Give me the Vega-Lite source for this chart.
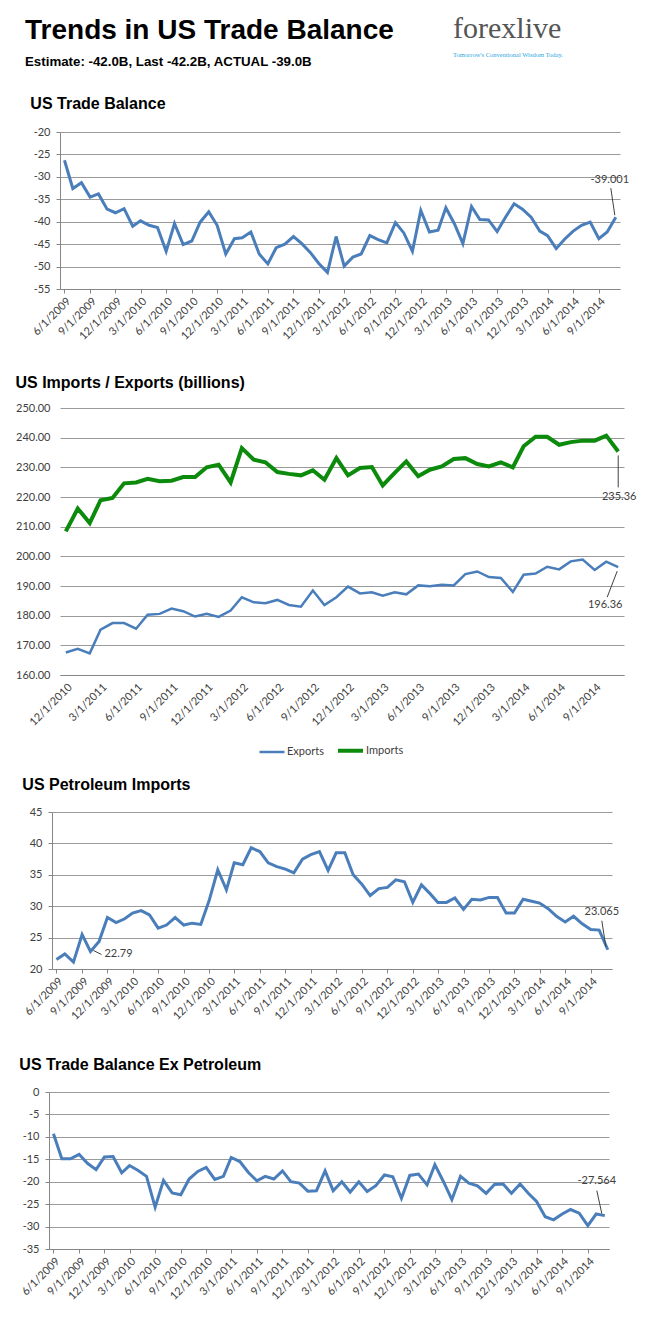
{
  "$schema": "https://vega.github.io/schema/vega-lite/v6.json",
  "background": "white",
  "padding": {"left": 15, "top": 13, "right": 0, "bottom": 0},
  "config": {"view": {"stroke": null}},
  "datasets": {
    "tb": [
      {"date":"2009-06-01","value":-26.3},{"date":"2009-07-01","value":-32.6},{"date":"2009-08-01","value":-31.3},{"date":"2009-09-01","value":-34.5},{"date":"2009-10-01","value":-33.8},{"date":"2009-11-01","value":-37.2},{"date":"2009-12-01","value":-38.0},
      {"date":"2010-01-01","value":-37.1},{"date":"2010-02-01","value":-41.0},{"date":"2010-03-01","value":-39.8},{"date":"2010-04-01","value":-40.8},{"date":"2010-05-01","value":-41.3},{"date":"2010-06-01","value":-46.6},{"date":"2010-07-01","value":-40.4},{"date":"2010-08-01","value":-45.1},{"date":"2010-09-01","value":-44.3},{"date":"2010-10-01","value":-40.1},{"date":"2010-11-01","value":-37.8},{"date":"2010-12-01","value":-40.8},
      {"date":"2011-01-01","value":-47.2},{"date":"2011-02-01","value":-43.8},{"date":"2011-03-01","value":-43.6},{"date":"2011-04-01","value":-42.3},{"date":"2011-05-01","value":-47.2},{"date":"2011-06-01","value":-49.4},{"date":"2011-07-01","value":-45.8},{"date":"2011-08-01","value":-45.0},{"date":"2011-09-01","value":-43.3},{"date":"2011-10-01","value":-44.9},{"date":"2011-11-01","value":-46.9},{"date":"2011-12-01","value":-49.3},
      {"date":"2012-01-01","value":-51.3},{"date":"2012-02-01","value":-43.3},{"date":"2012-03-01","value":-49.9},{"date":"2012-04-01","value":-47.9},{"date":"2012-05-01","value":-47.2},{"date":"2012-06-01","value":-43.1},{"date":"2012-07-01","value":-44.0},{"date":"2012-08-01","value":-44.7},{"date":"2012-09-01","value":-40.2},{"date":"2012-10-01","value":-42.5},{"date":"2012-11-01","value":-46.6},{"date":"2012-12-01","value":-37.5},
      {"date":"2013-01-01","value":-42.3},{"date":"2013-02-01","value":-41.9},{"date":"2013-03-01","value":-36.9},{"date":"2013-04-01","value":-40.5},{"date":"2013-05-01","value":-44.9},{"date":"2013-06-01","value":-36.6},{"date":"2013-07-01","value":-39.5},{"date":"2013-08-01","value":-39.6},{"date":"2013-09-01","value":-42.2},{"date":"2013-10-01","value":-39.0},{"date":"2013-11-01","value":-36.0},{"date":"2013-12-01","value":-37.2},
      {"date":"2014-01-01","value":-39.0},{"date":"2014-02-01","value":-42.1},{"date":"2014-03-01","value":-43.1},{"date":"2014-04-01","value":-46.0},{"date":"2014-05-01","value":-43.9},{"date":"2014-06-01","value":-42.1},{"date":"2014-07-01","value":-40.8},{"date":"2014-08-01","value":-40.1},{"date":"2014-09-01","value":-43.8},{"date":"2014-10-01","value":-42.3},{"date":"2014-11-01","value":-39.001,"label":"-39.001"}
    ],
    "pet": [
      {"date":"2009-06-01","value":21.5},{"date":"2009-07-01","value":22.4},{"date":"2009-08-01","value":21.1},{"date":"2009-09-01","value":25.5},{"date":"2009-10-01","value":22.79,"label":"22.79"},{"date":"2009-11-01","value":24.4},{"date":"2009-12-01","value":28.2},
      {"date":"2010-01-01","value":27.4},{"date":"2010-02-01","value":28.0},{"date":"2010-03-01","value":28.9},{"date":"2010-04-01","value":29.3},{"date":"2010-05-01","value":28.6},{"date":"2010-06-01","value":26.5},{"date":"2010-07-01","value":27.0},{"date":"2010-08-01","value":28.2},{"date":"2010-09-01","value":27.0},{"date":"2010-10-01","value":27.3},{"date":"2010-11-01","value":27.1},{"date":"2010-12-01","value":30.9},
      {"date":"2011-01-01","value":35.8},{"date":"2011-02-01","value":32.6},{"date":"2011-03-01","value":36.9},{"date":"2011-04-01","value":36.6},{"date":"2011-05-01","value":39.3},{"date":"2011-06-01","value":38.7},{"date":"2011-07-01","value":36.9},{"date":"2011-08-01","value":36.3},{"date":"2011-09-01","value":35.9},{"date":"2011-10-01","value":35.3},{"date":"2011-11-01","value":37.5},{"date":"2011-12-01","value":38.2},
      {"date":"2012-01-01","value":38.7},{"date":"2012-02-01","value":35.7},{"date":"2012-03-01","value":38.5},{"date":"2012-04-01","value":38.5},{"date":"2012-05-01","value":35.0},{"date":"2012-06-01","value":33.5},{"date":"2012-07-01","value":31.7},{"date":"2012-08-01","value":32.8},{"date":"2012-09-01","value":33.0},{"date":"2012-10-01","value":34.2},{"date":"2012-11-01","value":33.9},{"date":"2012-12-01","value":30.6},
      {"date":"2013-01-01","value":33.4},{"date":"2013-02-01","value":32.0},{"date":"2013-03-01","value":30.6},{"date":"2013-04-01","value":30.6},{"date":"2013-05-01","value":31.3},{"date":"2013-06-01","value":29.5},{"date":"2013-07-01","value":31.1},{"date":"2013-08-01","value":31.0},{"date":"2013-09-01","value":31.4},{"date":"2013-10-01","value":31.4},{"date":"2013-11-01","value":28.9},{"date":"2013-12-01","value":28.9},
      {"date":"2014-01-01","value":31.1},{"date":"2014-02-01","value":30.8},{"date":"2014-03-01","value":30.5},{"date":"2014-04-01","value":29.6},{"date":"2014-05-01","value":28.4},{"date":"2014-06-01","value":27.5},{"date":"2014-07-01","value":28.4},{"date":"2014-08-01","value":27.2},{"date":"2014-09-01","value":26.3},{"date":"2014-10-01","value":26.2},{"date":"2014-11-01","value":23.065,"label":"23.065"}
    ],
    "expet": [
      {"date":"2009-06-01","value":-9.3},{"date":"2009-07-01","value":-14.9},{"date":"2009-08-01","value":-14.9},{"date":"2009-09-01","value":-13.9},{"date":"2009-10-01","value":-15.9},{"date":"2009-11-01","value":-17.3},{"date":"2009-12-01","value":-14.5},
      {"date":"2010-01-01","value":-14.4},{"date":"2010-02-01","value":-18.0},{"date":"2010-03-01","value":-16.4},{"date":"2010-04-01","value":-17.5},{"date":"2010-05-01","value":-18.8},{"date":"2010-06-01","value":-25.7},{"date":"2010-07-01","value":-19.7},{"date":"2010-08-01","value":-22.5},{"date":"2010-09-01","value":-22.9},{"date":"2010-10-01","value":-19.4},{"date":"2010-11-01","value":-17.7},{"date":"2010-12-01","value":-16.8},
      {"date":"2011-01-01","value":-19.5},{"date":"2011-02-01","value":-18.8},{"date":"2011-03-01","value":-14.6},{"date":"2011-04-01","value":-15.5},{"date":"2011-05-01","value":-17.9},{"date":"2011-06-01","value":-19.8},{"date":"2011-07-01","value":-18.8},{"date":"2011-08-01","value":-19.4},{"date":"2011-09-01","value":-17.6},{"date":"2011-10-01","value":-20.0},{"date":"2011-11-01","value":-20.3},{"date":"2011-12-01","value":-22.1},
      {"date":"2012-01-01","value":-22.0},{"date":"2012-02-01","value":-17.6},{"date":"2012-03-01","value":-22.0},{"date":"2012-04-01","value":-20.0},{"date":"2012-05-01","value":-22.3},{"date":"2012-06-01","value":-20.0},{"date":"2012-07-01","value":-22.2},{"date":"2012-08-01","value":-20.9},{"date":"2012-09-01","value":-18.5},{"date":"2012-10-01","value":-18.9},{"date":"2012-11-01","value":-23.7},{"date":"2012-12-01","value":-18.6},
      {"date":"2013-01-01","value":-18.3},{"date":"2013-02-01","value":-20.7},{"date":"2013-03-01","value":-16.2},{"date":"2013-04-01","value":-20.0},{"date":"2013-05-01","value":-24.0},{"date":"2013-06-01","value":-18.8},{"date":"2013-07-01","value":-20.3},{"date":"2013-08-01","value":-20.9},{"date":"2013-09-01","value":-22.6},{"date":"2013-10-01","value":-20.6},{"date":"2013-11-01","value":-20.5},{"date":"2013-12-01","value":-22.6},
      {"date":"2014-01-01","value":-20.5},{"date":"2014-02-01","value":-22.7},{"date":"2014-03-01","value":-24.4},{"date":"2014-04-01","value":-27.8},{"date":"2014-05-01","value":-28.5},{"date":"2014-06-01","value":-27.2},{"date":"2014-07-01","value":-26.2},{"date":"2014-08-01","value":-27.0},{"date":"2014-09-01","value":-29.8},{"date":"2014-10-01","value":-27.2},{"date":"2014-11-01","value":-27.564,"label":"-27.564"}
    ],
    "impexp": [
      {"date":"2010-12-01","series":"Exports","value":167.6},{"date":"2011-01-01","series":"Exports","value":168.8},{"date":"2011-02-01","series":"Exports","value":167.3},{"date":"2011-03-01","series":"Exports","value":175.3},{"date":"2011-04-01","series":"Exports","value":177.5},{"date":"2011-05-01","series":"Exports","value":177.5},{"date":"2011-06-01","series":"Exports","value":175.6},{"date":"2011-07-01","series":"Exports","value":180.3},{"date":"2011-08-01","series":"Exports","value":180.6},{"date":"2011-09-01","series":"Exports","value":182.4},{"date":"2011-10-01","series":"Exports","value":181.5},{"date":"2011-11-01","series":"Exports","value":179.7},{"date":"2011-12-01","series":"Exports","value":180.6},
      {"date":"2012-01-01","series":"Exports","value":179.6},{"date":"2012-02-01","series":"Exports","value":181.7},{"date":"2012-03-01","series":"Exports","value":186.2},{"date":"2012-04-01","series":"Exports","value":184.5},{"date":"2012-05-01","series":"Exports","value":184.2},{"date":"2012-06-01","series":"Exports","value":185.3},{"date":"2012-07-01","series":"Exports","value":183.6},{"date":"2012-08-01","series":"Exports","value":183.0},{"date":"2012-09-01","series":"Exports","value":188.5},{"date":"2012-10-01","series":"Exports","value":183.6},{"date":"2012-11-01","series":"Exports","value":186.2},{"date":"2012-12-01","series":"Exports","value":189.8},
      {"date":"2013-01-01","series":"Exports","value":187.5},{"date":"2013-02-01","series":"Exports","value":187.9},{"date":"2013-03-01","series":"Exports","value":186.7},{"date":"2013-04-01","series":"Exports","value":187.9},{"date":"2013-05-01","series":"Exports","value":187.2},{"date":"2013-06-01","series":"Exports","value":190.2},{"date":"2013-07-01","series":"Exports","value":189.9},{"date":"2013-08-01","series":"Exports","value":190.4},{"date":"2013-09-01","series":"Exports","value":190.2},{"date":"2013-10-01","series":"Exports","value":194.0},{"date":"2013-11-01","series":"Exports","value":194.9},{"date":"2013-12-01","series":"Exports","value":193.0},
      {"date":"2014-01-01","series":"Exports","value":192.7},{"date":"2014-02-01","series":"Exports","value":188.0},{"date":"2014-03-01","series":"Exports","value":193.8},{"date":"2014-04-01","series":"Exports","value":194.2},{"date":"2014-05-01","series":"Exports","value":196.5},{"date":"2014-06-01","series":"Exports","value":195.6},{"date":"2014-07-01","series":"Exports","value":198.3},{"date":"2014-08-01","series":"Exports","value":198.9},{"date":"2014-09-01","series":"Exports","value":195.4},{"date":"2014-10-01","series":"Exports","value":198.2},{"date":"2014-11-01","series":"Exports","value":196.36,"label":"196.36"},
      {"date":"2010-12-01","series":"Imports","value":208.4},{"date":"2011-01-01","series":"Imports","value":216.1},{"date":"2011-02-01","series":"Imports","value":211.2},{"date":"2011-03-01","series":"Imports","value":218.9},{"date":"2011-04-01","series":"Imports","value":219.7},{"date":"2011-05-01","series":"Imports","value":224.6},{"date":"2011-06-01","series":"Imports","value":224.9},{"date":"2011-07-01","series":"Imports","value":226.1},{"date":"2011-08-01","series":"Imports","value":225.3},{"date":"2011-09-01","series":"Imports","value":225.5},{"date":"2011-10-01","series":"Imports","value":226.7},{"date":"2011-11-01","series":"Imports","value":226.7},{"date":"2011-12-01","series":"Imports","value":230.0},
      {"date":"2012-01-01","series":"Imports","value":230.9},{"date":"2012-02-01","series":"Imports","value":224.9},{"date":"2012-03-01","series":"Imports","value":236.5},{"date":"2012-04-01","series":"Imports","value":232.6},{"date":"2012-05-01","series":"Imports","value":231.7},{"date":"2012-06-01","series":"Imports","value":228.4},{"date":"2012-07-01","series":"Imports","value":227.8},{"date":"2012-08-01","series":"Imports","value":227.3},{"date":"2012-09-01","series":"Imports","value":229.0},{"date":"2012-10-01","series":"Imports","value":225.8},{"date":"2012-11-01","series":"Imports","value":233.1},{"date":"2012-12-01","series":"Imports","value":227.3},
      {"date":"2013-01-01","series":"Imports","value":229.8},{"date":"2013-02-01","series":"Imports","value":230.1},{"date":"2013-03-01","series":"Imports","value":223.9},{"date":"2013-04-01","series":"Imports","value":228.1},{"date":"2013-05-01","series":"Imports","value":232.0},{"date":"2013-06-01","series":"Imports","value":227.0},{"date":"2013-07-01","series":"Imports","value":229.2},{"date":"2013-08-01","series":"Imports","value":230.3},{"date":"2013-09-01","series":"Imports","value":232.8},{"date":"2013-10-01","series":"Imports","value":233.1},{"date":"2013-11-01","series":"Imports","value":231.1},{"date":"2013-12-01","series":"Imports","value":230.3},
      {"date":"2014-01-01","series":"Imports","value":231.7},{"date":"2014-02-01","series":"Imports","value":230.0},{"date":"2014-03-01","series":"Imports","value":237.1},{"date":"2014-04-01","series":"Imports","value":240.3},{"date":"2014-05-01","series":"Imports","value":240.3},{"date":"2014-06-01","series":"Imports","value":237.6},{"date":"2014-07-01","series":"Imports","value":238.5},{"date":"2014-08-01","series":"Imports","value":239.0},{"date":"2014-09-01","series":"Imports","value":239.0},{"date":"2014-10-01","series":"Imports","value":240.7},{"date":"2014-11-01","series":"Imports","value":235.36,"label":"235.36"}
    ]
  },
  "concat": [
    {
      "hconcat": [
        {
          "width": 360, "height": 10,
          "data": {"values": []},
          "mark": "point",
          "title": {"text": "Trends in US Trade Balance", "subtitle": "Estimate: -42.0B, Last -42.2B, ACTUAL -39.0B", "anchor": "start", "dx": -24, "font": "Liberation Sans", "fontSize": 28, "fontWeight": "bold", "color": "black", "subtitleFont": "Liberation Sans", "subtitleFontSize": 13.3, "subtitleFontWeight": "bold", "subtitleColor": "black", "subtitlePadding": 10, "offset": 4}
        },
        {
          "width": 112, "height": 10,
          "data": {"values": []},
          "mark": "point",
          "title": {"text": "forexlive", "subtitle": "Tomorrow's Conventional Wisdom Today.", "anchor": "start", "font": "Liberation Serif", "fontSize": 30, "fontWeight": "normal", "color": "#555555", "subtitleFont": "Liberation Serif", "subtitleFontSize": 6.5, "subtitleColor": "#2aa6df", "subtitlePadding": 8, "offset": 14}
        }
      ],
      "spacing": 44
    },
    {
      "hconcat": [
        {"width": 1, "height": 1, "data": {"values": []}, "mark": "point"},
        {
          "width": 560, "height": 157,
          "data": {"name": "tb"},
          "title": {"text": "US Trade Balance", "anchor": "start", "font": "Liberation Sans", "fontSize": 16, "fontWeight": "bold", "color": "black", "offset": 14},
          "encoding": {
            "x": {"field": "date", "type": "temporal", "scale": {"type": "utc", "domain": [{"year":2009,"month":5,"date":16,"utc":true},{"year":2014,"month":11,"date":16,"utc":true}]},
              "axis": {"title": null, "format": "%-m/%-d/%Y", "labelAngle": -45, "labelFont": "Lato", "labelFontSize": 11, "labelColor": "#404040", "labelOverlap": false, "labelFlush": false, "labelBound": false, "grid": false, "domainColor": "#868686", "tickColor": "#868686", "tickSize": 4, "labelPadding": 2, "minExtent": 72,
                "values": [{"year":2009,"month":6,"date":1,"utc":true},{"year":2009,"month":9,"date":1,"utc":true},{"year":2009,"month":12,"date":1,"utc":true},{"year":2010,"month":3,"date":1,"utc":true},{"year":2010,"month":6,"date":1,"utc":true},{"year":2010,"month":9,"date":1,"utc":true},{"year":2010,"month":12,"date":1,"utc":true},{"year":2011,"month":3,"date":1,"utc":true},{"year":2011,"month":6,"date":1,"utc":true},{"year":2011,"month":9,"date":1,"utc":true},{"year":2011,"month":12,"date":1,"utc":true},{"year":2012,"month":3,"date":1,"utc":true},{"year":2012,"month":6,"date":1,"utc":true},{"year":2012,"month":9,"date":1,"utc":true},{"year":2012,"month":12,"date":1,"utc":true},{"year":2013,"month":3,"date":1,"utc":true},{"year":2013,"month":6,"date":1,"utc":true},{"year":2013,"month":9,"date":1,"utc":true},{"year":2013,"month":12,"date":1,"utc":true},{"year":2014,"month":3,"date":1,"utc":true},{"year":2014,"month":6,"date":1,"utc":true},{"year":2014,"month":9,"date":1,"utc":true}]}},
            "y": {"field": "value", "type": "quantitative", "scale": {"domain": [-55, -20], "nice": false, "zero": false},
              "axis": {"title": null, "values": [-55,-50,-45,-40,-35,-30,-25,-20], "labelExpr": "toString(datum.value)", "labelFont": "Lato", "labelFontSize": 11, "labelColor": "#404040", "grid": true, "gridColor": "#9a9a9a", "domainColor": "#868686", "tickColor": "#868686", "tickSize": 4, "labelPadding": 6}}
          },
          "layer": [
            {"mark": {"type": "line", "color": "#4a7ebb", "strokeWidth": 3}},
            {"transform": [{"filter": "datum.label"}], "mark": {"type": "rule", "color": "#404040", "strokeWidth": 1, "xOffset": -1, "yOffset": -2, "x2Offset": -5, "y2Offset": -29}, "encoding": {"x2": {"field": "date"}, "y2": {"field": "value"}}},
            {"transform": [{"filter": "datum.label"}], "mark": {"type": "text", "font": "Lato", "fontSize": 11, "color": "#404040", "dx": -6, "dy": -37}, "encoding": {"text": {"field": "label"}}}
          ]
        }
      ],
      "spacing": 10,
      "bounds": "flush"
    },
    {
      "hconcat": [
        {"width": 1, "height": 1, "data": {"values": []}, "mark": "point"},
        {
          "width": 564, "height": 267,
          "data": {"name": "impexp"},
          "title": {"text": "US Imports / Exports (billions)", "anchor": "start", "font": "Liberation Sans", "fontSize": 16, "fontWeight": "bold", "color": "black", "offset": 11},
          "encoding": {
            "x": {"field": "date", "type": "temporal", "scale": {"type": "utc", "domain": [{"year":2010,"month":11,"date":16,"utc":true},{"year":2014,"month":11,"date":16,"utc":true}]},
              "axis": {"title": null, "format": "%-m/%-d/%Y", "labelAngle": -45, "labelFont": "Lato", "labelFontSize": 11, "labelColor": "#404040", "labelOverlap": false, "labelFlush": false, "labelBound": false, "grid": false, "domainColor": "#868686", "ticks": false, "labelPadding": 6,
                "values": [{"year":2010,"month":12,"date":1,"utc":true},{"year":2011,"month":3,"date":1,"utc":true},{"year":2011,"month":6,"date":1,"utc":true},{"year":2011,"month":9,"date":1,"utc":true},{"year":2011,"month":12,"date":1,"utc":true},{"year":2012,"month":3,"date":1,"utc":true},{"year":2012,"month":6,"date":1,"utc":true},{"year":2012,"month":9,"date":1,"utc":true},{"year":2012,"month":12,"date":1,"utc":true},{"year":2013,"month":3,"date":1,"utc":true},{"year":2013,"month":6,"date":1,"utc":true},{"year":2013,"month":9,"date":1,"utc":true},{"year":2013,"month":12,"date":1,"utc":true},{"year":2014,"month":3,"date":1,"utc":true},{"year":2014,"month":6,"date":1,"utc":true},{"year":2014,"month":9,"date":1,"utc":true}]}},
            "y": {"field": "value", "type": "quantitative", "scale": {"domain": [160, 250], "nice": false, "zero": false},
              "axis": {"title": null, "values": [160,170,180,190,200,210,220,230,240,250], "format": ".2f", "labelFont": "Lato", "labelFontSize": 11, "labelColor": "#404040", "grid": true, "gridColor": "#9a9a9a", "domain": false, "ticks": false, "labelPadding": 10}},
            "color": {"field": "series", "type": "nominal", "scale": {"domain": ["Exports", "Imports"], "range": ["#4a7ebb", "#0b8a0b"]},
              "legend": {"orient": "none", "legendX": 194, "legendY": 324, "padding": 4, "direction": "horizontal", "title": null, "symbolType": "stroke", "symbolStrokeWidth": 4, "symbolSize": 625, "labelFont": "Lato", "labelFontSize": 11, "labelColor": "#404040", "columnPadding": 6, "labelOffset": 1}}
          },
          "layer": [
            {"mark": {"type": "line"}, "encoding": {"strokeWidth": {"field": "series", "type": "nominal", "scale": {"domain": ["Exports", "Imports"], "range": [2.5, 4]}, "legend": null}}},
            {"transform": [{"filter": "datum.series == 'Imports' && datum.label"}], "mark": {"type": "rule", "color": "#404040", "strokeWidth": 1, "yOffset": 4, "y2Offset": 36}, "encoding": {"x2": {"field": "date"}, "y2": {"field": "value"}, "color": {"value": "#404040"}}},
            {"transform": [{"filter": "datum.series == 'Imports' && datum.label"}], "mark": {"type": "text", "font": "Lato", "fontSize": 11, "dx": 1, "dy": 46}, "encoding": {"text": {"field": "label"}, "color": {"value": "#404040"}}},
            {"transform": [{"filter": "datum.series == 'Exports' && datum.label"}], "mark": {"type": "rule", "color": "#404040", "strokeWidth": 1, "xOffset": -1, "yOffset": 4, "x2Offset": -11, "y2Offset": 30}, "encoding": {"x2": {"field": "date"}, "y2": {"field": "value"}, "color": {"value": "#404040"}}},
            {"transform": [{"filter": "datum.series == 'Exports' && datum.label"}], "mark": {"type": "text", "font": "Lato", "fontSize": 11, "dx": -13, "dy": 38}, "encoding": {"text": {"field": "label"}, "color": {"value": "#404040"}}}
          ]
        }
      ],
      "spacing": 10,
      "bounds": "flush",
      "resolve": {"scale": {"color": "independent", "strokeWidth": "independent"}, "legend": {"color": "independent", "strokeWidth": "independent"}}
    },
    {
      "hconcat": [
        {"width": 1, "height": 1, "data": {"values": []}, "mark": "point"},
        {
          "width": 560, "height": 157,
          "data": {"name": "pet"},
          "title": {"text": "US Petroleum Imports", "anchor": "start", "font": "Liberation Sans", "fontSize": 16, "fontWeight": "bold", "color": "black", "offset": 13},
          "encoding": {
            "x": {"field": "date", "type": "temporal", "scale": {"type": "utc", "domain": [{"year":2009,"month":5,"date":16,"utc":true},{"year":2014,"month":11,"date":16,"utc":true}]},
              "axis": {"title": null, "format": "%-m/%-d/%Y", "labelAngle": -45, "labelFont": "Lato", "labelFontSize": 11, "labelColor": "#404040", "labelOverlap": false, "labelFlush": false, "labelBound": false, "grid": false, "domainColor": "#868686", "tickColor": "#868686", "tickSize": 4, "labelPadding": 2, "minExtent": 74,
                "values": [{"year":2009,"month":6,"date":1,"utc":true},{"year":2009,"month":9,"date":1,"utc":true},{"year":2009,"month":12,"date":1,"utc":true},{"year":2010,"month":3,"date":1,"utc":true},{"year":2010,"month":6,"date":1,"utc":true},{"year":2010,"month":9,"date":1,"utc":true},{"year":2010,"month":12,"date":1,"utc":true},{"year":2011,"month":3,"date":1,"utc":true},{"year":2011,"month":6,"date":1,"utc":true},{"year":2011,"month":9,"date":1,"utc":true},{"year":2011,"month":12,"date":1,"utc":true},{"year":2012,"month":3,"date":1,"utc":true},{"year":2012,"month":6,"date":1,"utc":true},{"year":2012,"month":9,"date":1,"utc":true},{"year":2012,"month":12,"date":1,"utc":true},{"year":2013,"month":3,"date":1,"utc":true},{"year":2013,"month":6,"date":1,"utc":true},{"year":2013,"month":9,"date":1,"utc":true},{"year":2013,"month":12,"date":1,"utc":true},{"year":2014,"month":3,"date":1,"utc":true},{"year":2014,"month":6,"date":1,"utc":true},{"year":2014,"month":9,"date":1,"utc":true}]}},
            "y": {"field": "value", "type": "quantitative", "scale": {"domain": [20, 45], "nice": false, "zero": false},
              "axis": {"title": null, "values": [20,25,30,35,40,45], "labelFont": "Lato", "labelFontSize": 11, "labelColor": "#404040", "grid": true, "gridColor": "#9a9a9a", "domainColor": "#868686", "tickColor": "#868686", "tickSize": 4, "labelPadding": 6}}
          },
          "layer": [
            {"mark": {"type": "line", "color": "#4a7ebb", "strokeWidth": 3}},
            {"transform": [{"filter": "datum.label == '22.79'"}], "mark": {"type": "rule", "color": "#404040", "strokeWidth": 1, "xOffset": 3, "yOffset": -1, "x2Offset": 11, "y2Offset": 3}, "encoding": {"x2": {"field": "date"}, "y2": {"field": "value"}}},
            {"transform": [{"filter": "datum.label == '22.79'"}], "mark": {"type": "text", "align": "left", "font": "Lato", "fontSize": 11, "color": "#404040", "dx": 14, "dy": 3}, "encoding": {"text": {"field": "label"}}},
            {"transform": [{"filter": "datum.label == '23.065'"}], "mark": {"type": "rule", "color": "#404040", "strokeWidth": 1, "xOffset": -6, "yOffset": -29, "x2Offset": -2, "y2Offset": -3}, "encoding": {"x2": {"field": "date"}, "y2": {"field": "value"}}},
            {"transform": [{"filter": "datum.label == '23.065'"}], "mark": {"type": "text", "font": "Lato", "fontSize": 11, "color": "#404040", "dx": -6, "dy": -38}, "encoding": {"text": {"field": "label"}}}
          ]
        }
      ],
      "spacing": 2,
      "bounds": "flush"
    },
    {
      "width": 560, "height": 157,
      "data": {"name": "expet"},
      "title": {"text": "US Trade Balance Ex Petroleum", "anchor": "start", "font": "Liberation Sans", "fontSize": 16, "fontWeight": "bold", "color": "black", "offset": 13},
      "encoding": {
        "x": {"field": "date", "type": "temporal", "scale": {"type": "utc", "domain": [{"year":2009,"month":5,"date":16,"utc":true},{"year":2014,"month":11,"date":16,"utc":true}]},
          "axis": {"title": null, "format": "%-m/%-d/%Y", "labelAngle": -45, "labelFont": "Lato", "labelFontSize": 11, "labelColor": "#404040", "labelOverlap": false, "labelFlush": false, "labelBound": false, "grid": false, "domainColor": "#868686", "tickColor": "#868686", "tickSize": 4, "labelPadding": 2,
            "values": [{"year":2009,"month":6,"date":1,"utc":true},{"year":2009,"month":9,"date":1,"utc":true},{"year":2009,"month":12,"date":1,"utc":true},{"year":2010,"month":3,"date":1,"utc":true},{"year":2010,"month":6,"date":1,"utc":true},{"year":2010,"month":9,"date":1,"utc":true},{"year":2010,"month":12,"date":1,"utc":true},{"year":2011,"month":3,"date":1,"utc":true},{"year":2011,"month":6,"date":1,"utc":true},{"year":2011,"month":9,"date":1,"utc":true},{"year":2011,"month":12,"date":1,"utc":true},{"year":2012,"month":3,"date":1,"utc":true},{"year":2012,"month":6,"date":1,"utc":true},{"year":2012,"month":9,"date":1,"utc":true},{"year":2012,"month":12,"date":1,"utc":true},{"year":2013,"month":3,"date":1,"utc":true},{"year":2013,"month":6,"date":1,"utc":true},{"year":2013,"month":9,"date":1,"utc":true},{"year":2013,"month":12,"date":1,"utc":true},{"year":2014,"month":3,"date":1,"utc":true},{"year":2014,"month":6,"date":1,"utc":true},{"year":2014,"month":9,"date":1,"utc":true}]}},
        "y": {"field": "value", "type": "quantitative", "scale": {"domain": [-35, 0], "nice": false, "zero": false},
          "axis": {"title": null, "values": [-35,-30,-25,-20,-15,-10,-5,0], "labelExpr": "toString(datum.value)", "labelFont": "Lato", "labelFontSize": 11, "labelColor": "#404040", "grid": true, "gridColor": "#9a9a9a", "domainColor": "#868686", "tickColor": "#868686", "tickSize": 4, "labelPadding": 6}}
      },
      "layer": [
        {"mark": {"type": "line", "color": "#4a7ebb", "strokeWidth": 3}},
        {"transform": [{"filter": "datum.label"}], "mark": {"type": "rule", "color": "#404040", "strokeWidth": 1, "xOffset": -8, "yOffset": -25, "x2Offset": -3, "y2Offset": -2}, "encoding": {"x2": {"field": "date"}, "y2": {"field": "value"}}},
        {"transform": [{"filter": "datum.label"}], "mark": {"type": "text", "font": "Lato", "fontSize": 11, "color": "#404040", "dx": -8, "dy": -35}, "encoding": {"text": {"field": "label"}}}
      ]
    }
  ],
  "columns": 1,
  "spacing": 14
}
